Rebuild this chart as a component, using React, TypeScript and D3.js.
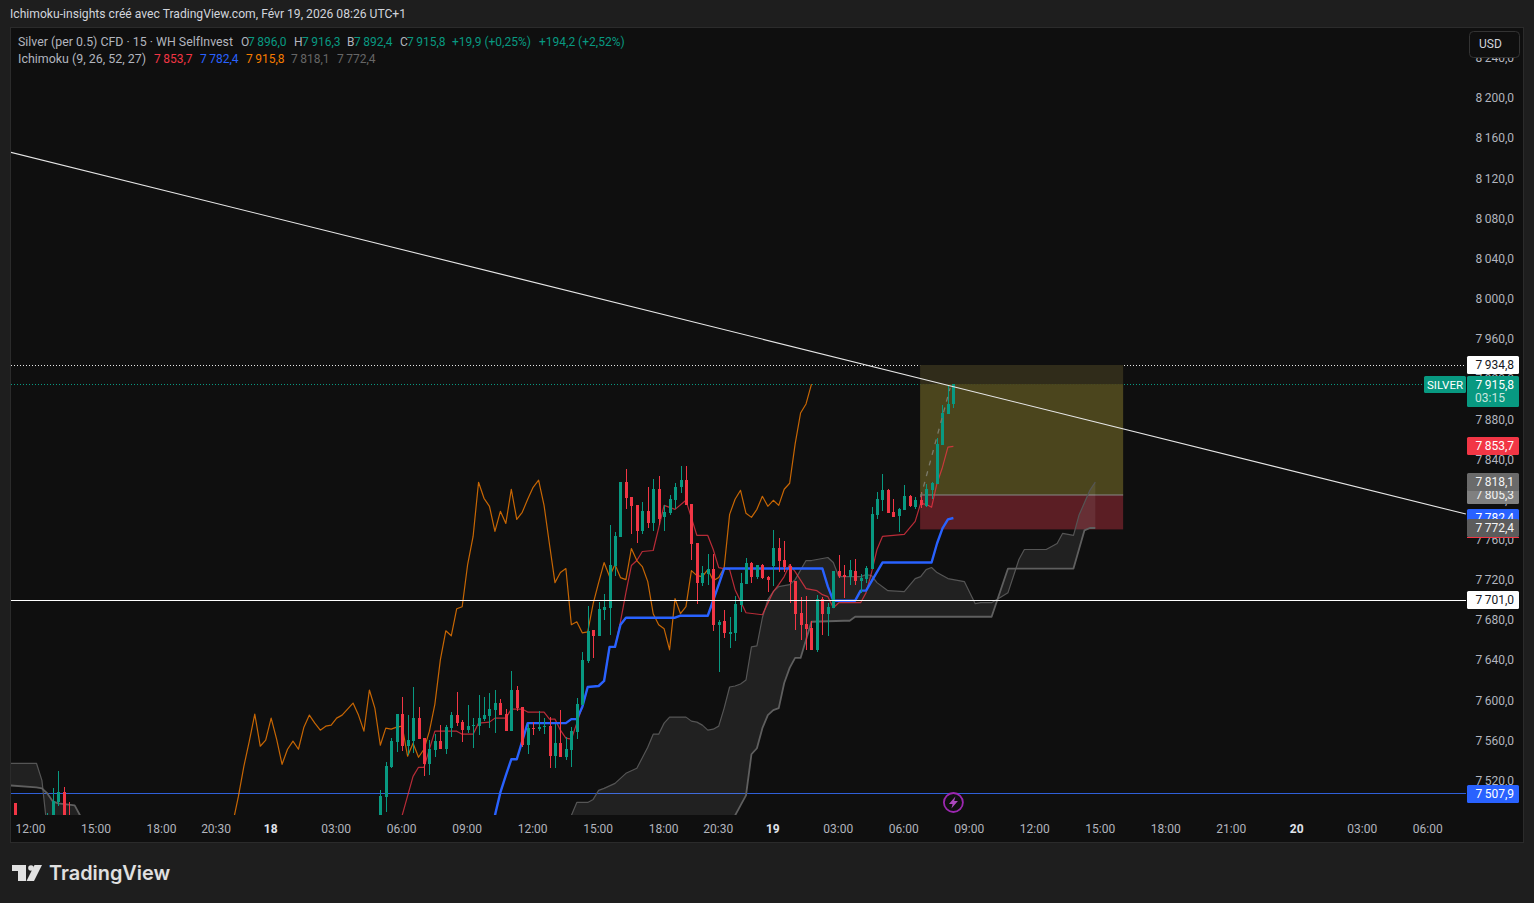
import { useEffect, useRef } from "react";
import * as d3 from "d3";

// bar index 0 = Feb 17 12:00, one bar = 15 min
const earlyBars = [-3, 3, 4, 5, 6, 7];
const earlyOpen = [7498, 7470, 7475, 7499, 7509, 7480];
const earlyHigh = [7498, 7488, 7513, 7530, 7514, 7499];
const earlyLow = [7470, 7465, 7470, 7495, 7470, 7465];
const earlyClose = [7475, 7480, 7500, 7509, 7480, 7470];

// bars 63..169
const firstBar = 63;
const candleOpen = [
  7470, 7479, 7504, 7534, 7559, 7587, 7555, 7560, 7583, 7563,
  7537, 7551, 7560, 7552, 7573, 7586, 7579, 7571, 7575, 7575,
  7582, 7585, 7591, 7598, 7587, 7570, 7611, 7594, 7556, 7573,
  7572, 7574, 7575, 7545, 7558, 7544, 7551, 7569, 7596, 7640,
  7671, 7665, 7691, 7693, 7735, 7763, 7818, 7803, 7795, 7769,
  7789, 7777, 7811, 7783, 7787, 7800, 7813, 7820, 7796, 7757,
  7718, 7727, 7732, 7676, 7680, 7667, 7668, 7696, 7717, 7738,
  7724, 7736, 7724, 7735, 7752, 7741, 7735, 7720, 7688, 7677,
  7673, 7651, 7702, 7687, 7693, 7730, 7726, 7724, 7730, 7720,
  7722, 7732, 7785, 7800, 7810, 7788, 7784, 7790, 7804, 7793,
  7800, 7794, 7810, 7816, 7855, 7886, 7896,
];
const candleHigh = [
  7480, 7511, 7539, 7563, 7587, 7604, 7586, 7614, 7594, 7563,
  7561, 7567, 7576, 7576, 7589, 7609, 7581, 7596, 7583, 7606,
  7604, 7608, 7611, 7602, 7592, 7630, 7615, 7594, 7577, 7579,
  7590, 7583, 7584, 7577, 7591, 7564, 7574, 7603, 7649, 7695,
  7671, 7699, 7707, 7775, 7768, 7818, 7831, 7803, 7795, 7798,
  7813, 7821, 7824, 7795, 7805, 7817, 7834, 7834, 7796, 7757,
  7735, 7747, 7747, 7681, 7691, 7684, 7705, 7728, 7743, 7739,
  7736, 7737, 7725, 7770, 7762, 7759, 7737, 7720, 7704, 7705,
  7680, 7706, 7704, 7698, 7730, 7746, 7736, 7741, 7742, 7727,
  7735, 7793, 7808, 7826, 7811, 7801, 7792, 7815, 7805, 7803,
  7808, 7816, 7818, 7862, 7895, 7915, 7916.3,
];
const candleLow = [
  7460, 7473, 7489, 7533, 7549, 7550, 7546, 7548, 7562, 7525,
  7526, 7544, 7552, 7547, 7564, 7575, 7559, 7568, 7553, 7566,
  7580, 7573, 7568, 7586, 7570, 7570, 7590, 7554, 7547, 7566,
  7570, 7567, 7533, 7533, 7544, 7541, 7534, 7562, 7596, 7638,
  7643, 7665, 7681, 7666, 7725, 7763, 7791, 7766, 7757, 7766,
  7772, 7769, 7775, 7769, 7785, 7791, 7807, 7795, 7741, 7697,
  7715, 7716, 7670, 7629, 7663, 7653, 7660, 7689, 7717, 7718,
  7722, 7722, 7709, 7715, 7729, 7729, 7698, 7671, 7661, 7651,
  7651, 7649, 7666, 7665, 7693, 7723, 7703, 7716, 7716, 7708,
  7718, 7732, 7781, 7789, 7787, 7783, 7768, 7790, 7793, 7791,
  7792, 7793, 7801, 7816, 7855, 7886, 7892.4,
];
const candleClose = [
  7479, 7505, 7535, 7560, 7587, 7555, 7561, 7583, 7562, 7537,
  7552, 7560, 7552, 7574, 7586, 7578, 7571, 7575, 7576, 7583,
  7586, 7592, 7598, 7586, 7570, 7611, 7593, 7556, 7573, 7572,
  7574, 7575, 7545, 7558, 7544, 7552, 7570, 7597, 7641, 7670,
  7665, 7692, 7694, 7736, 7764, 7818, 7802, 7794, 7769, 7789,
  7777, 7811, 7781, 7788, 7801, 7813, 7820, 7795, 7756, 7718,
  7728, 7732, 7676, 7679, 7668, 7669, 7697, 7718, 7738, 7724,
  7736, 7723, 7721, 7752, 7740, 7734, 7719, 7687, 7676, 7672,
  7651, 7702, 7687, 7694, 7730, 7725, 7724, 7731, 7720, 7723,
  7733, 7786, 7801, 7810, 7787, 7783, 7791, 7804, 7794, 7800,
  7795, 7811, 7817, 7856, 7887, 7896, 7915.8,
];

// ichimoku lines, read at the bars where they turn
const tenkanBars = [
  68, 70, 71, 72, 74, 78, 79, 81, 82, 84, 85, 87, 88, 90, 91, 94, 95, 96, 97, 98, 99, 100,
  101, 102, 104, 105, 106, 107, 108, 109, 110, 111, 112, 114, 116, 118, 120, 122, 124, 125,
  126, 128, 129, 131, 134, 136, 137, 138, 139, 140, 142, 144, 145, 146, 147, 148, 152, 153,
  154, 155, 156, 160, 162, 163, 164, 165, 166, 167, 168, 169,
];
const tenkanValues = [
  7486, 7525, 7534, 7534, 7570, 7570, 7567, 7567, 7578, 7579, 7583, 7583, 7592, 7592, 7589, 7589, 7582, 7582, 7571, 7563, 7562, 7578,
  7594, 7614, 7615, 7620, 7654, 7654, 7679, 7708, 7735, 7740, 7749, 7750, 7795, 7791, 7800, 7765, 7765, 7751,
  7733, 7731, 7711, 7688, 7686, 7709, 7716, 7724, 7736, 7729, 7712, 7710, 7706, 7704, 7693, 7698, 7698, 7708,
  7728, 7751, 7764, 7766, 7779, 7797, 7796, 7793, 7817, 7833, 7853, 7853.7,
];
const kijunBars = [
  85, 86, 87, 88, 89, 91, 98, 99, 100, 101, 102, 104, 105, 106, 107, 108, 109, 118, 119, 124,
  126, 127, 145, 146, 147, 151, 152, 153, 156, 165, 166, 167, 168, 169,
];
const kijunValues = [
  7486, 7509, 7526, 7542, 7542, 7578, 7578, 7582, 7582, 7594, 7614, 7615, 7620, 7654, 7654, 7676, 7683, 7683, 7685, 7685,
  7716, 7732, 7732, 7714, 7700, 7700, 7710, 7710, 7738, 7738, 7757, 7772, 7781, 7782.4,
];
const spanABars = [
  -4, 1, 2, 3, 98, 99, 100, 102, 103, 104, 105, 107, 109, 111, 113, 114, 115, 116, 117, 120,
  121, 122, 123, 124, 125, 126, 127, 128, 129, 130, 131, 132, 133, 134, 135, 136, 137, 139, 140, 142,
  143, 146, 147, 148, 152, 153, 154, 155, 157, 160, 162, 163, 164, 165, 166, 168, 169, 171, 173, 174,
  176, 179, 181, 182, 186, 188, 189, 191, 192, 194, 195,
];
const spanAValues = [
  7538, 7538, 7521, 7471, 7471, 7486, 7499, 7499, 7502, 7511, 7513, 7518, 7528, 7533, 7554, 7567, 7567, 7578, 7584, 7584,
  7580, 7579, 7576, 7571, 7572, 7575, 7593, 7614, 7615, 7617, 7621, 7654, 7655, 7683, 7701, 7709, 7714, 7716, 7721, 7740,
  7740, 7743, 7738, 7724, 7724, 7726, 7725, 7718, 7710, 7709, 7722, 7724, 7731, 7733, 7728, 7722, 7721, 7719, 7697, 7698,
  7698, 7708, 7741, 7751, 7751, 7757, 7767, 7765, 7785, 7810, 7818.1,
];
const spanBBars = [
  -4, 1, 2, 3, 4, 5, 8, 9, 10, 128, 129, 130, 131, 132, 133, 134, 135, 136, 137, 138,
  139, 140, 141, 143, 149, 150, 151, 176, 179, 191, 193, 194, 195,
];
const spanBValues = [
  7516, 7514, 7513, 7508, 7500, 7498, 7496, 7486, 7470, 7470, 7486, 7496, 7506, 7547, 7553, 7573, 7586, 7591, 7593, 7618,
  7633, 7643, 7643, 7679, 7680, 7680, 7684, 7684, 7732, 7732, 7770, 7772.4, 7772.4,
];

const priceTicks = [8240, 8200, 8160, 8120, 8080, 8040, 8000, 7960, 7920, 7880, 7840, 7800, 7760, 7720, 7680, 7640, 7600, 7560, 7520];
const timeBars = [0, 12, 24, 34, 44, 56, 68, 80, 92, 104, 116, 126, 136, 148, 160, 172, 184, 196, 208, 220, 232, 244, 256];
const timeLabels = ["12:00", "15:00", "18:00", "20:30", "18", "03:00", "06:00", "09:00", "12:00", "15:00", "18:00", "20:30", "19", "03:00", "06:00", "09:00", "12:00", "15:00", "18:00", "21:00", "20", "03:00", "06:00"];
const dayLabels = ["18", "19", "20"];

// drawings
const trendBars = [-3.85, 262.9];
const trendPrices = [8146.9, 7786.3];
const forecastBars = [163, 168.4];
const forecastPrices = [7803, 7912];
const boxBars = [162.9, 200.1];
const boxTop = 7934.8;
const boxCurrent = 7915.8;
const boxEntry = 7805.3;
const boxStop = 7771;
const supportPrice = 7701;
const lowPrice = 7507.9;

const GREEN = "#089981";
const RED = "#f23645";
const BLUE = "#2962ff";
const ORANGE = "#f57c00";
const TEXT = "#b2b5be";
const FONT = "Roboto, sans-serif";

const frLocale = d3.formatLocale({ decimal: ",", thousands: "\u2009", grouping: [3], currency: ["", ""] });
const fmt = frLocale.format(",.1f");

function App() {
  const svgRef = useRef<SVGSVGElement>(null);

  useEffect(() => {
    if (!svgRef.current) return;
    const svg = d3.select(svgRef.current);
    svg.selectAll("*").remove();

    const x = d3.scaleLinear().domain([0, 169]).range([31, 953.4]);
    const y = d3.scaleLinear().domain([lowPrice, boxTop]).range([793.5, 365]);

    svg.append("rect").attr("width", 1534).attr("height", 903).attr("fill", "#1e1e1e");
    svg
      .append("rect")
      .attr("x", 10.5)
      .attr("y", 27.5)
      .attr("width", 1513)
      .attr("height", 815)
      .attr("fill", "#0f0f0f")
      .attr("stroke", "#2b2b2b");

    svg
      .append("text")
      .attr("x", 10)
      .attr("y", 18)
      .attr("fill", "#d1d4dc")
      .attr("font-size", 12.13)
      .text("Ichimoku-insights créé avec TradingView.com, Févr 19, 2026 08:26 UTC+1");

    svg.append("defs").append("clipPath").attr("id", "pane").append("rect").attr("x", 11).attr("y", 28).attr("width", 1455).attr("height", 787);
    const pane = svg.append("g").attr("clip-path", "url(#pane)");

    // horizontal levels
    pane.append("line").attr("x1", 11).attr("x2", 1466).attr("y1", Math.floor(y(lowPrice)) + 0.5).attr("y2", Math.floor(y(lowPrice)) + 0.5).attr("stroke", "#2f5fd8");
    pane.append("line").attr("x1", 11).attr("x2", 1466).attr("y1", Math.round(y(boxTop)) + 0.5).attr("y2", Math.round(y(boxTop)) + 0.5).attr("stroke", "#e8e8e8").attr("stroke-dasharray", "1 2");
    pane.append("line").attr("x1", 11).attr("x2", 1466).attr("y1", Math.round(y(boxCurrent)) + 0.5).attr("y2", Math.round(y(boxCurrent)) + 0.5).attr("stroke", GREEN).attr("stroke-dasharray", "1 2");

    // target / stop box
    const bx = x(boxBars[0]);
    const bw = x(boxBars[1]) - bx;
    pane.append("rect").attr("x", bx).attr("y", y(boxTop)).attr("width", bw).attr("height", y(boxCurrent) - y(boxTop)).attr("fill", "#302c1a");
    pane.append("rect").attr("x", bx).attr("y", y(boxCurrent)).attr("width", bw).attr("height", y(boxEntry) - y(boxCurrent)).attr("fill", "#4b451d");
    pane.append("rect").attr("x", bx).attr("y", y(boxEntry)).attr("width", bw).attr("height", y(boxStop) - y(boxEntry)).attr("fill", "#5b1e24");
    pane.append("line").attr("x1", bx).attr("x2", bx + bw).attr("y1", y(boxEntry)).attr("y2", y(boxEntry)).attr("stroke", "#8a8a8a");

    // cloud
    const spanA = spanABars.map((b, i) => [x(b), y(spanAValues[i])] as [number, number]);
    const spanB = spanBBars.map((b, i) => [x(b), y(spanBValues[i])] as [number, number]);
    const line = d3.line();
    pane.append("path").attr("d", line([...spanA, ...[...spanB].reverse()])).attr("fill", "rgba(255,255,255,0.08)");
    pane.append("path").attr("d", line(spanA)).attr("fill", "none").attr("stroke", "#555").attr("stroke-width", 1.2).attr("stroke-linejoin", "round");
    pane.append("path").attr("d", line(spanB)).attr("fill", "none").attr("stroke", "#5f5f5f").attr("stroke-width", 1.8).attr("stroke-linejoin", "round");

    // chikou is the close pushed back 26 bars
    const chikou = candleClose.map((c, i) => [x(firstBar + i - 26), y(c)] as [number, number]);
    pane.append("path").attr("d", line(chikou)).attr("fill", "none").attr("stroke", ORANGE).attr("stroke-opacity", 0.8).attr("stroke-width", 1.2).attr("stroke-linejoin", "round");

    const tenkan = tenkanBars.map((b, i) => [x(b), y(tenkanValues[i])] as [number, number]);
    pane.append("path").attr("d", line(tenkan)).attr("fill", "none").attr("stroke", RED).attr("stroke-opacity", 0.75).attr("stroke-width", 1.2).attr("stroke-linejoin", "round");
    const kijun = kijunBars.map((b, i) => [x(b), y(kijunValues[i])] as [number, number]);
    pane.append("path").attr("d", line(kijun)).attr("fill", "none").attr("stroke", BLUE).attr("stroke-width", 2.4).attr("stroke-linejoin", "round");

    // candles
    const bars = [
      ...earlyBars.map((b, i) => ({ b, o: earlyOpen[i], h: earlyHigh[i], l: earlyLow[i], c: earlyClose[i] })),
      ...candleOpen.map((o, i) => ({ b: firstBar + i, o, h: candleHigh[i], l: candleLow[i], c: candleClose[i] })),
    ];
    const candles = pane
      .selectAll(".candle")
      .data(bars)
      .enter()
      .append("g")
      .attr("class", "candle")
      .attr("shape-rendering", "crispEdges")
      .attr("fill", (d) => (d.c >= d.o ? GREEN : RED));
    candles
      .append("rect")
      .attr("x", (d) => Math.round(x(d.b)) - 0.5)
      .attr("width", 1)
      .attr("y", (d) => y(d.h))
      .attr("height", (d) => y(d.l) - y(d.h));
    candles
      .append("rect")
      .attr("x", (d) => Math.round(x(d.b)) - 1.5)
      .attr("width", 3)
      .attr("y", (d) => y(Math.max(d.o, d.c)))
      .attr("height", (d) => Math.max(1, Math.abs(y(d.o) - y(d.c))));

    // trend line, dashed forecast and the solid level
    pane
      .append("path")
      .attr("d", line(trendBars.map((b, i) => [x(b), y(trendPrices[i])] as [number, number])))
      .attr("stroke", "#e6e6e6")
      .attr("stroke-width", 1.1)
      .attr("fill", "none");
    pane
      .append("path")
      .attr("d", line(forecastBars.map((b, i) => [x(b), y(forecastPrices[i])] as [number, number])))
      .attr("stroke", "#7a7a6a")
      .attr("stroke-width", 1.3)
      .attr("stroke-dasharray", "5 6")
      .attr("fill", "none");
    pane.append("line").attr("x1", 11).attr("x2", 1466).attr("y1", Math.round(y(supportPrice)) + 0.5).attr("y2", Math.round(y(supportPrice)) + 0.5).attr("stroke", "#fff").attr("stroke-width", 1);

    // lightning event marker
    const marker = svg.append("g").attr("transform", `translate(${x(169)},802.5)`);
    marker.append("circle").attr("r", 9.5).attr("fill", "#0f0f0f").attr("stroke", "#9c27b0").attr("stroke-width", 1.8);
    marker.append("path").attr("d", "M2-6L-4.5 1.5H-0.8L-2 6L4.5-1.5H0.8Z").attr("fill", "#ab47bc");

    // price axis
    const axisClip = svg.append("defs").append("clipPath").attr("id", "axis");
    axisClip.append("rect").attr("x", 1467).attr("y", 28).attr("width", 56).attr("height", 787);
    svg
      .append("g")
      .attr("clip-path", "url(#axis)")
      .selectAll("text")
      .data(priceTicks)
      .enter()
      .append("text")
      .attr("x", 1514)
      .attr("y", (d) => y(d) + 3.5)
      .attr("text-anchor", "end")
      .attr("fill", TEXT)
      .attr("font-size", 12)
      .text((d) => fmt(d));

    // time axis
    svg
      .append("g")
      .selectAll("text")
      .data(timeBars)
      .enter()
      .append("text")
      .attr("x", (d) => x(d) - 0.5)
      .attr("y", 833)
      .attr("text-anchor", "middle")
      .attr("fill", (_, i) => (dayLabels.includes(timeLabels[i]) ? "#e0e3eb" : TEXT))
      .attr("font-weight", (_, i) => (dayLabels.includes(timeLabels[i]) ? 700 : 400))
      .attr("font-size", 12)
      .text((_, i) => timeLabels[i]);

    // price tags, bottom ones first so the overlaps fall the same way
    const tag = (price: number, fill: string, color: string, h = 18) => {
      const top = Math.round(y(price)) - 9;
      svg.append("rect").attr("x", 1467).attr("y", top).attr("width", 52).attr("height", h).attr("rx", 1.5).attr("fill", fill);
      svg.append("text").attr("x", 1514).attr("y", top + 13).attr("text-anchor", "end").attr("fill", color).attr("font-size", 12).text(fmt(price));
    };
    tag(7805.3, "#808080", "#f0f0f0");
    tag(7818.1, "#6a6a6a", "#f4f4f4");
    tag(7782.4, BLUE, "#fff");
    svg.append("rect").attr("x", 1467).attr("y", 537).attr("width", 52).attr("height", 1).attr("fill", RED);
    tag(7772.4, "#5c5c5c", "#f4f4f4");
    tag(7853.7, RED, "#fff");
    tag(boxTop, "#fff", "#131722");
    tag(supportPrice, "#fff", "#131722");
    tag(lowPrice, BLUE, "#fff");

    svg.append("rect").attr("x", 1467).attr("y", 376).attr("width", 52).attr("height", 31).attr("rx", 1.5).attr("fill", GREEN);
    svg.append("text").attr("x", 1514).attr("y", 389).attr("text-anchor", "end").attr("fill", "#fff").attr("font-size", 12).text(fmt(boxCurrent));
    svg.append("text").attr("x", 1475).attr("y", 402).attr("fill", "#c8e6df").attr("font-size", 12).text("03:15");
    svg.append("rect").attr("x", 1424).attr("y", 376).attr("width", 42).attr("height", 17).attr("rx", 1.5).attr("fill", GREEN);
    svg.append("text").attr("x", 1445).attr("y", 389).attr("text-anchor", "middle").attr("fill", "#fff").attr("font-size", 11.5).text("SILVER");

    // currency button
    svg.append("rect").attr("x", 1469.5).attr("y", 31.5).attr("width", 50).attr("height", 26).attr("rx", 4).attr("fill", "#0f0f0f").attr("stroke", "#333");
    svg.append("text").attr("x", 1479).attr("y", 48).attr("fill", "#d1d4dc").attr("font-size", 12).text("USD");

    // legend
    const legend: [number, number, string, string, number][] = [
      [18, 46, "Silver (per 0.5) CFD · 15 · WH SelfInvest", TEXT, 12.35],
      [241, 46, "O", TEXT, 12],
      [248, 46, fmt(7896), GREEN, 12],
      [294, 46, "H", TEXT, 12],
      [302, 46, fmt(7916.3), GREEN, 12],
      [347, 46, "B", TEXT, 12],
      [354, 46, fmt(7892.4), GREEN, 12],
      [400, 46, "C", TEXT, 12],
      [407, 46, fmt(7915.8), GREEN, 12],
      [452, 46, "+19,9 (+0,25%)", GREEN, 12],
      [539, 46, "+194,2 (+2,52%)", GREEN, 12],
      [18, 63, "Ichimoku (9, 26, 52, 27)", TEXT, 12.45],
      [154, 63, fmt(7853.7), RED, 12],
      [200, 63, fmt(7782.4), BLUE, 12],
      [246, 63, fmt(7915.8), ORANGE, 12],
      [291, 63, fmt(7818.1), "#666", 12],
      [337, 63, fmt(7772.4), "#666", 12],
    ];
    svg
      .append("g")
      .selectAll("text")
      .data(legend)
      .enter()
      .append("text")
      .attr("x", (d) => d[0])
      .attr("y", (d) => d[1])
      .attr("fill", (d) => d[3])
      .attr("font-size", (d) => d[4])
      .text((d) => d[2]);

    // TradingView logo
    const logo = svg.append("g").attr("fill", "#e0e0e0");
    logo.append("path").attr("d", "M12 865H26V881H18V871H12Z");
    logo.append("circle").attr("cx", 31).attr("cy", 868).attr("r", 2.8);
    logo.append("path").attr("d", "M34.5 865H42L34 881H26.5Z");
    svg.append("text").attr("x", 49).attr("y", 880).attr("fill", "#e0e0e0").attr("font-family", "Inter, sans-serif").attr("font-weight", 600).attr("font-size", 19.9).text("TradingView");
  }, []);

  return (
    <svg
      ref={svgRef}
      width={1534}
      height={903}
      style={{ position: "absolute", left: 0, top: 0, fontFamily: FONT }}
    ></svg>
  );
}

export default App;
